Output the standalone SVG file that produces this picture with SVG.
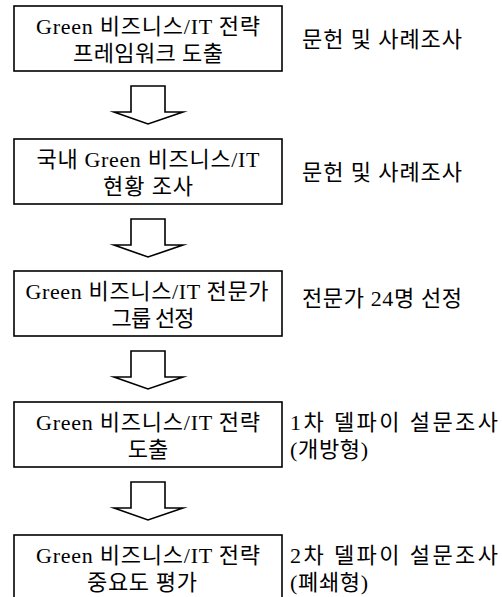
<svg xmlns="http://www.w3.org/2000/svg" width="502" height="597" viewBox="0 0 502 597">
<style>
.box{fill:#fff;stroke:#000;stroke-width:1.6}
.t{font-family:"Liberation Serif","Noto Sans CJK KR",serif;font-size:22px;fill:#000}
.c{text-anchor:middle}
.arrow{fill:#fff;stroke:#000;stroke-width:1.6;stroke-linejoin:miter;stroke-miterlimit:20}
</style>
<rect width="502" height="597" fill="#fff"/>
<g id="connectors">
<polygon class="arrow" points="131,86 165,86 165,112 183,112 148,124 114,112 131,112"/>
<polygon class="arrow" points="131,219 165,219 165,245 183,245 148,257 114,245 131,245"/>
<polygon class="arrow" points="131,351 165,351 165,377 183,377 148,389 114,377 131,377"/>
<polygon class="arrow" points="131,482 165,482 165,508 183,508 148,520 114,508 131,508"/>
</g>
<g id="node1">
<rect class="box" x="14" y="6" width="268" height="65"/>
<text class="t c" x="148" y="34" textLength="224" lengthAdjust="spacing">Green 비즈니스/IT 전략</text>
<text class="t c" x="148" y="61" textLength="150" lengthAdjust="spacing">프레임워크 도출</text>
</g>
<g id="note1"><text class="t" x="302" y="47" textLength="160" lengthAdjust="spacing">문헌 및 사례조사</text></g>
<g id="node2">
<rect class="box" x="14" y="139" width="268" height="65"/>
<text class="t c" x="148" y="167" textLength="223" lengthAdjust="spacing">국내 Green 비즈니스/IT</text>
<text class="t c" x="148" y="194" textLength="90" lengthAdjust="spacing">현황 조사</text>
</g>
<g id="note2"><text class="t" x="302" y="180" textLength="160" lengthAdjust="spacing">문헌 및 사례조사</text></g>
<g id="node3">
<rect class="box" x="14" y="271" width="268" height="65"/>
<text class="t c" x="147" y="299" textLength="243" lengthAdjust="spacing">Green 비즈니스/IT 전문가</text>
<text class="t c" x="153" y="326" textLength="83" lengthAdjust="spacing">그룹 선정</text>
</g>
<g id="note3"><text class="t" x="302" y="306" textLength="160" lengthAdjust="spacing">전문가 24명 선정</text></g>
<g id="node4">
<rect class="box" x="14" y="402" width="268" height="65"/>
<text class="t c" x="148" y="430" textLength="224" lengthAdjust="spacing">Green 비즈니스/IT 전략</text>
<text class="t c" x="148" y="457">도출</text>
</g>
<g id="note4">
<text class="t" x="290" y="430" textLength="208" lengthAdjust="spacing">1차 델파이 설문조사</text>
<text class="t" x="290" y="457" textLength="78" lengthAdjust="spacing">(개방형)</text>
</g>
<g id="node5">
<rect class="box" x="14" y="535" width="268" height="70"/>
<text class="t c" x="148" y="563" textLength="224" lengthAdjust="spacing">Green 비즈니스/IT 전략</text>
<text class="t c" x="142" y="590" textLength="110" lengthAdjust="spacing">중요도 평가</text>
</g>
<g id="note5">
<text class="t" x="290" y="563" textLength="208" lengthAdjust="spacing">2차 델파이 설문조사</text>
<text class="t" x="290" y="590" textLength="78" lengthAdjust="spacing">(폐쇄형)</text>
</g>
</svg>
